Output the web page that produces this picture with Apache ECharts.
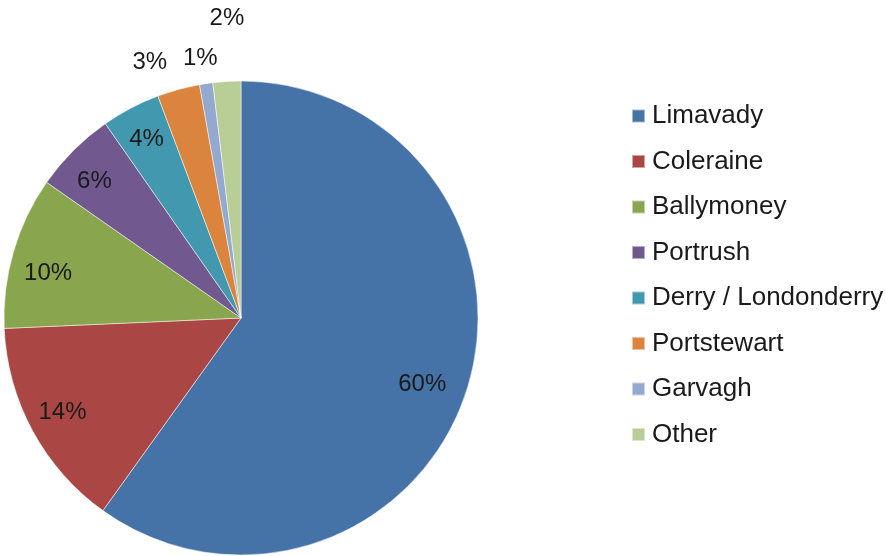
<!DOCTYPE html>
<html>
<head>
<meta charset="utf-8">
<script src="https://cdn.jsdelivr.net/npm/echarts@6/dist/echarts.min.js"></script>
<style>
  html, body { margin: 0; padding: 0; background: #fff; }
  #chart { width: 886px; height: 556px; }
</style>
</head>
<body>
<div id="chart"></div>
<script>
// data
var towns = ['Limavady', 'Coleraine', 'Ballymoney', 'Portrush', 'Derry / Londonderry', 'Portstewart', 'Garvagh', 'Other'];
var shares = [59.9, 14.4, 10.4, 5.6, 4.0, 2.9, 0.9, 1.9];
var colors = ['#4572A7', '#AA4643', '#89A54E', '#71588F', '#4198AF', '#DB843D', '#93A9CF', '#B9CD96'];

var chart = echarts.init(document.getElementById('chart'));

var fontFamily = 'Liberation Sans, Arial, sans-serif';
var labelFont = { fontFamily: fontFamily, fontSize: 24, color: '#1a1a1a' };

function pieData(showIdx) {
  return towns.map(function (name, i) {
    return {
      name: name,
      value: shares[i],
      label: { show: showIdx(i) }
    };
  });
}

var pct = function (p) { return Math.round(p.percent) + '%'; };

// small nudges, like Excel's best-fit label placement
var innerNudge = [[-12, 4], [0, -2], [2, 12], [-3, 7], [0, 1]];
var outerNudge = { 5: [-20, 5], 6: [-1, 7], 7: [2, -30] };

var option = {
  animation: false,
  color: colors,
  legend: {
    orient: 'vertical',
    left: 631,
    top: 102,
    padding: 0,
    itemWidth: 13,
    itemHeight: 13,
    itemGap: 17.5,
    icon: 'rect',
    data: towns,
    textStyle: {
      fontFamily: fontFamily,
      fontSize: 26,
      color: '#1a1a1a',
      lineHeight: 28,
      padding: [0, 0, 0, 2]
    }
  },
  series: [
    {
      // visible slices
      type: 'pie',
      center: [241, 318],
      radius: 237,
      startAngle: 90,
      label: { show: false },
      labelLine: { show: false },
      itemStyle: { borderColor: 'rgba(255,255,255,0.5)', borderWidth: 1 },
      emphasis: { scale: false },
      data: pieData(function () { return false; })
    },
    {
      // labels inside the big slices
      type: 'pie',
      silent: true,
      center: [241, 318],
      radius: 400,
      startAngle: 90,
      itemStyle: { color: 'transparent' },
      label: Object.assign({ position: 'inside', formatter: pct }, labelFont),
      labelLine: { show: false },
      labelLayout: function (p) {
        var n = innerNudge[p.dataIndex];
        return n ? { dx: n[0], dy: n[1] } : {};
      },
      data: pieData(function (i) { return i < 5; })
    },
    {
      // labels outside the small slices
      type: 'pie',
      silent: true,
      center: [241, 318],
      radius: 534,
      startAngle: 90,
      itemStyle: { color: 'transparent' },
      label: Object.assign({ position: 'inside', formatter: pct }, labelFont),
      labelLine: { show: false },
      labelLayout: function (p) {
        var n = outerNudge[p.dataIndex];
        return n ? { dx: n[0], dy: n[1] } : {};
      },
      data: pieData(function (i) { return i >= 5; })
    }
  ]
};

chart.setOption(option);
</script>
</body>
</html>
